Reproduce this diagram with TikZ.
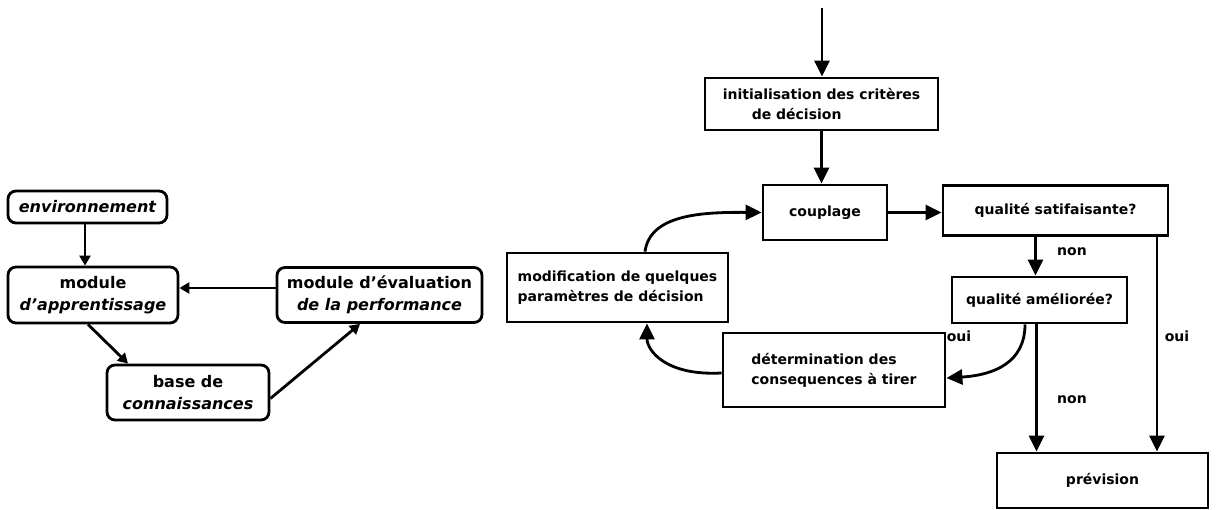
\documentclass[tikz,border=0pt]{standalone}
\usepackage{fontspec}
\setmainfont{DejaVu Sans}
\usetikzlibrary{arrows.meta}
\tikzset{
  rbox/.style={draw, line width=2.8pt, rounded corners=8pt, align=center, inner sep=2pt,
    font=\bfseries\fontsize{16}{22}\selectfont},
  sbox/.style={draw, line width=2.8pt, inner sep=2pt,
    font=\bfseries\fontsize{14}{20}\selectfont},
  lbl/.style={font=\bfseries\fontsize{14}{16}\selectfont},
  sarr/.style={line width=2.8pt, -{Triangle[length=10pt,width=11pt]}},
  barr/.style={line width=2.8pt, -{Triangle[length=16pt,width=15pt]}},
}
\begin{document}
\begin{tikzpicture}[x=1pt,y=-1pt]
\useasboundingbox (0,0) rectangle (1217,510);
% left diagram
\node[rbox, minimum width=159pt, minimum height=32pt] (env) at (87.5,207) {\itshape environnement};
\node[rbox, minimum width=170pt, minimum height=56pt] (appr) at (93,295) {module\\\itshape d'apprentissage};
\node[rbox, minimum width=205pt, minimum height=55pt] (eval) at (379.5,295) {module d'évaluation\\\itshape de la performance};
\node[rbox, minimum width=162pt, minimum height=55pt] (base) at (188,392.5) {base de\\\itshape connaissances};
\draw[sarr] ([xshift=-2.5pt]env.south) -- ([xshift=-2.5pt]env.south |- appr.north);
\draw[sarr] ([yshift=7pt]eval.west) -- ([yshift=7pt]eval.west -| appr.east);
\draw[sarr] ([xshift=-5pt]appr.south) -- ([xshift=-60pt]base.north);
\draw[sarr] ([yshift=-6pt]base.east) -- ([xshift=-19.5pt]eval.south);
% right diagram
\coordinate (top) at (822,8);
\node[sbox, minimum width=233pt, minimum height=52pt, align=left] (init) at (821.5,104) {initialisation des critères\\\hspace*{29pt}de décision};
\node[sbox, minimum width=124pt, minimum height=55pt] (coupl) at (825,212.5) {couplage};
\node[sbox, minimum width=225pt, minimum height=50pt] (qs) at (1055.5,210.5) {qualité satifaisante?};
\node[sbox, minimum width=175pt, minimum height=46pt] (qa) at (1039.5,300) {qualité améliorée?};
\node[sbox, minimum width=211pt, minimum height=55pt] (prev) at (1102.5,480.5) {prévision};
\node[sbox, minimum width=222pt, minimum height=74pt, align=left] (det) at (834,370) {détermination des\\consequences à tirer};
\node[sbox, minimum width=221pt, minimum height=69pt, align=left] (mod) at (617.5,287.5) {modification de quelques\\paramètres de décision};
\draw[barr] (top) -- (top |- init.north);
\draw[barr] (init.south) -- (init.south |- coupl.north);
\draw[barr] (coupl.east) -- (coupl.east -| qs.west);
\draw[barr] ([xshift=-20pt]qs.south) -- ([xshift=-4pt]qa.north);
\draw[barr] ([xshift=-3pt]qa.south) -- ([xshift=-3pt]qa.south |- prev.north);
\draw[barr] ([xshift=101.5pt]qs.south) -- ([xshift=101.5pt]qs.south |- prev.north);
\draw[barr] ([xshift=27.5pt]mod.north) .. controls (650,215) and (700,212) .. (coupl.west);
\draw[barr] ([yshift=-3pt]det.west) .. controls (665,376) and (647,350) .. ([xshift=29.5pt]mod.south);
\draw[barr] ([xshift=-14.5pt]qa.south) .. controls (1025,362) and (995,375) .. ([yshift=-8pt]det.east);
\node[lbl] (l1) at (1072,252) {non};
\node[lbl] (l2) at (1072,400) {non};
\node[lbl] (l3) at (959,336) {oui};
\node[lbl] (l4) at (1177,336) {oui};
\end{tikzpicture}
\end{document}
